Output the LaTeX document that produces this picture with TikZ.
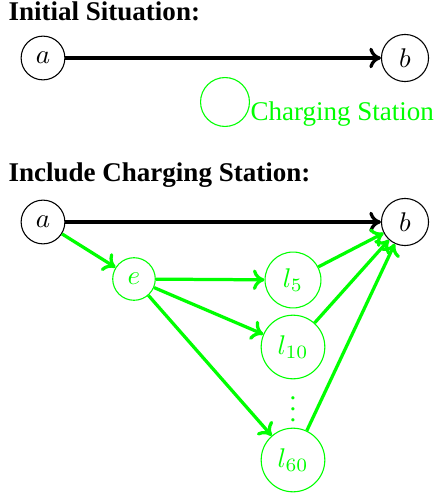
\documentclass[tikz,border=0pt]{standalone}
\usepackage{fontspec}
\setmainfont{Liberation Serif}
\usetikzlibrary{arrows.meta}
\begin{document}
\begin{tikzpicture}[x=0.37pt,y=-0.37pt,
  every node/.style={font=\fontsize{10}{12}\selectfont},
  title/.style={anchor=base west,inner sep=0pt,font=\fontsize{10}{12}\selectfont\bfseries},
  blk/.style={draw=black,circle,thin},
  grn/.style={draw=green,circle,thin,text=green},
  tip/.style={-{Computer Modern Rightarrow[length=4.3pt,width=7.6pt]}},
  arr/.style={tip,very thick,black},
  garr/.style={tip,very thick,green}]
\useasboundingbox (0,0) rectangle (433,497);
% Initial situation
\node[title] (t1) at (8,21) {Initial Situation:};
\node[blk] (a1) at (43,58) {$a$};
\node[blk] (b1) at (405,58) {$b$};
\draw[arr] (a1) -- (b1);
\node[grn,minimum size=18.1pt,inner sep=0pt] (cs) at (225,102) {};
\node[anchor=base west,text=green,inner sep=0pt] (cst) at (250,121) {Charging Station};
% Include charging station
\node[title] (t2) at (8,181) {Include Charging Station:};
\node[blk] (a2) at (43,222) {$a$};
\node[blk] (b2) at (405,222) {$b$};
\node[grn] (e) at (134,279) {$e$};
\node[grn] (l5) at (293,280) {$l_5$};
\node[grn] (l10) at (293,347) {$l_{10}$};
\node[text=green] (dots) at (293,401) {$\vdots$};
\node[grn] (l60) at (293,460) {$l_{60}$};
\draw[arr] (a2) -- (b2);
\draw[garr] (a2) -- (e);
\draw[garr] (e) -- (l5);
\draw[garr] (e) -- (l10);
\draw[garr] (e) -- (l60);
\draw[garr] (l5) -- (b2);
\draw[garr] (l10) -- (b2);
\draw[garr] (l60) -- (b2);
\end{tikzpicture}
\end{document}
